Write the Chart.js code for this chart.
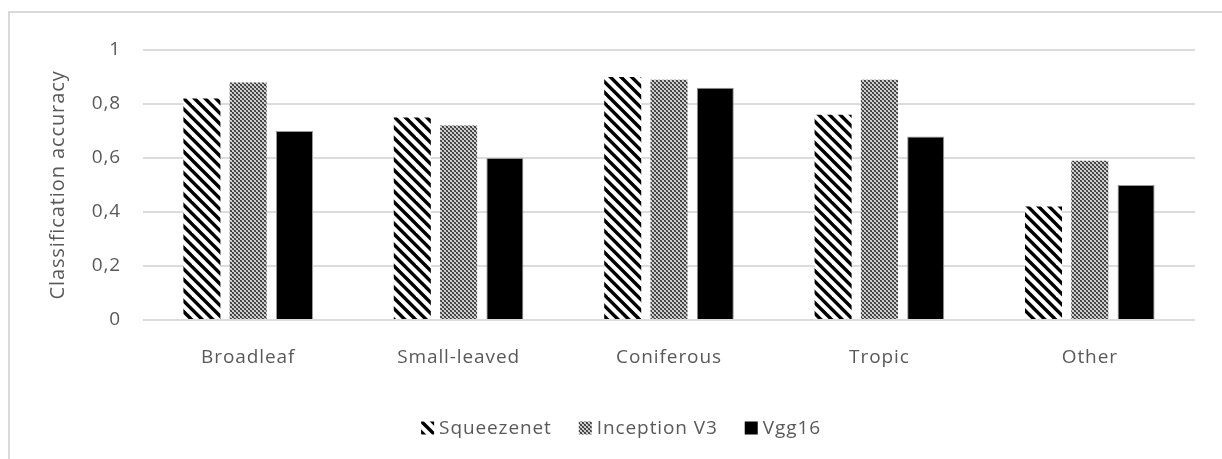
<!DOCTYPE html>
<html>
<head>
<meta charset="utf-8">
<script src="https://cdn.jsdelivr.net/npm/chart.js@4/dist/chart.umd.min.js"></script>
<style>
  html, body { margin: 0; padding: 0; background: #fff; overflow: hidden; }
  #wrap { position: relative; width: 1222px; height: 459px; overflow: hidden; }
  #frame { position: absolute; left: 8px; top: 11px; width: 1400px; height: 700px;
           border: 2px solid #d9d9d9; box-sizing: border-box; }
  #c { position: absolute; left: 0; top: 0; }
</style>
</head>
<body>
<div id="wrap">
  <div id="frame"></div>
  <canvas id="c" width="1222" height="459"></canvas>
</div>
<script>
// Classification accuracy per leaf type, for three networks
const categories  = ['Broadleaf', 'Small-leaved', 'Coniferous', 'Tropic', 'Other'];
const squeezenet  = [0.82, 0.75, 0.90, 0.76, 0.42];
const inceptionV3 = [0.88, 0.72, 0.89, 0.89, 0.59];
const vgg16       = [0.70, 0.60, 0.86, 0.68, 0.50];
const seriesNames = ['Squeezenet', 'Inception V3', 'Vgg16'];
const yTicks      = [0, 0.2, 0.4, 0.6, 0.8, 1];
const axisTitle   = 'Classification accuracy';

const FONT = "'Open Sans', 'DejaVu Sans', sans-serif";
const TEXT = '#595959';
const SPACING = '0.9px';

// Wide downward diagonal hatch
function hatchPattern(ctx) {
  const s = 32, p = s / 3;
  const c = document.createElement('canvas');
  c.width = c.height = s;
  const g = c.getContext('2d');
  g.fillStyle = '#fff';
  g.fillRect(0, 0, s, s);
  g.strokeStyle = '#000';
  g.lineWidth = 3.4;
  for (let k = -6; k <= 6; k++) {
    g.beginPath();
    g.moveTo(k * p - s, -s);
    g.lineTo(k * p + 2 * s, 2 * s);
    g.stroke();
  }
  return ctx.createPattern(c, 'repeat');
}

// Small checkerboard with softened cells
function checkerPattern(ctx) {
  const cells = [
    ['#3a3a3a', '#5a5a5a', '#d8d8d8', '#c0c0c0'],
    ['#5a5a5a', '#3a3a3a', '#c0c0c0', '#d8d8d8'],
    ['#d8d8d8', '#c0c0c0', '#3a3a3a', '#5a5a5a'],
    ['#c0c0c0', '#d8d8d8', '#5a5a5a', '#3a3a3a']
  ];
  const c = document.createElement('canvas');
  c.width = c.height = 4;
  const g = c.getContext('2d');
  cells.forEach((row, y) => row.forEach((col, x) => { g.fillStyle = col; g.fillRect(x, y, 1, 1); }));
  return ctx.createPattern(c, 'repeat');
}

const canvas = document.getElementById('c');
const ctx = canvas.getContext('2d');
const hatch = hatchPattern(ctx);
const checker = checkerPattern(ctx);

// Text spacing kept on the context for measuring and drawing
const spacingPlugin = {
  id: 'spacing',
  beforeLayout(chart) { chart.ctx.letterSpacing = SPACING; },
  beforeDraw(chart) { chart.ctx.letterSpacing = SPACING; }
};

// Key below the plot: swatch + label for each dataset
const keyPlugin = {
  id: 'bottomKey',
  afterDraw(chart) {
    const c = chart.ctx;
    c.save();
    c.letterSpacing = SPACING;
    c.font = '19px ' + FONT;
    c.textBaseline = 'middle';
    c.textAlign = 'left';
    const box = 13, gap = 5, itemGap = 27, cy = 428, cx = 621;
    const items = chart.data.datasets.map(ds => ({
      text: ds.label, fill: ds.backgroundColor, w: c.measureText(ds.label).width
    }));
    const total = items.reduce((a, it) => a + box + gap + it.w, 0) + itemGap * (items.length - 1);
    let x = cx - total / 2;
    items.forEach(it => {
      c.fillStyle = it.fill;
      c.fillRect(x, cy - box / 2, box, box);
      c.fillStyle = TEXT;
      c.fillText(it.text, x + box + gap, cy + 1);
      x += box + gap + it.w + itemGap;
    });
    c.restore();
  }
};

new Chart(ctx, {
  type: 'bar',
  data: {
    labels: categories,
    datasets: [
      { label: seriesNames[0], data: squeezenet,  backgroundColor: hatch,   borderWidth: 0 },
      { label: seriesNames[1], data: inceptionV3, backgroundColor: checker, borderWidth: 0 },
      { label: seriesNames[2], data: vgg16,       backgroundColor: '#000',  borderColor: '#9a9a9a', borderWidth: 1 }
    ]
  },
  plugins: [spacingPlugin, keyPlugin],
  options: {
    responsive: false,
    animation: false,
    devicePixelRatio: 1,
    layout: { padding: { left: 0, right: 27, top: 50, bottom: 0 } },
    datasets: { bar: { categoryPercentage: 0.66, barPercentage: 0.8 } },
    plugins: { legend: { display: false }, tooltip: { enabled: false } },
    scales: {
      x: {
        grid: { display: false },
        border: { display: false },
        ticks: { color: TEXT, font: { family: FONT, size: 19 }, padding: 18, maxRotation: 0 },
        afterFit(scale) { scale.height = 139; }
      },
      y: {
        min: 0, max: 1,
        afterBuildTicks(scale) { scale.ticks = yTicks.map(v => ({ value: v })); },
        grid: { color: '#dcdcdc', lineWidth: 2, drawTicks: false },
        border: { display: false },
        ticks: {
          color: TEXT, font: { family: FONT, size: 19 }, padding: 22,
          callback: v => String(+v.toFixed(1)).replace('.', ',')
        },
        title: {
          display: true, text: axisTitle, color: TEXT,
          font: { family: FONT, size: 20, weight: 'normal' },
          padding: { top: 46, bottom: 0 }
        },
        afterFit(scale) { scale.width = 143; }
      }
    }
  }
});
</script>
</body>
</html>
